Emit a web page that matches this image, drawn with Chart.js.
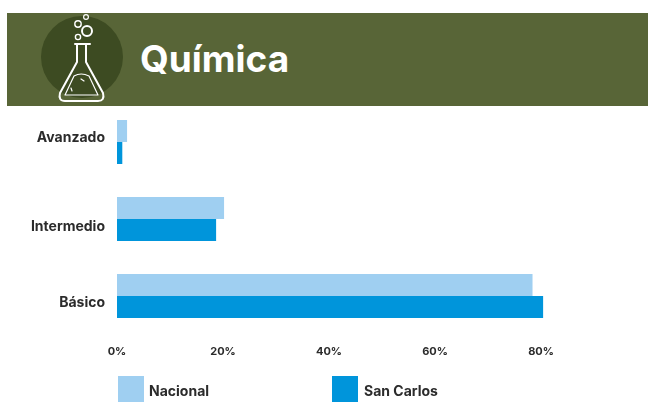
<!DOCTYPE html>
<html>
<head>
<meta charset="utf-8">
<title>Química</title>
<script src="https://cdn.jsdelivr.net/npm/chart.js@4"></script>
<style>
  html, body { margin: 0; padding: 0; background: #fff; overflow: hidden; }
  #page { position: relative; width: 649px; height: 413px; font-family: Inter, sans-serif; }
  #header { position: absolute; left: 7px; top: 13px; width: 641px; height: 93px; background: #586537; }
  #header svg { position: absolute; left: 0; top: -13px; }
  #header h1 { position: absolute; left: 133px; top: 23px; margin: 0; color: #fff; font-size: 37px; line-height: 46px; font-weight: 700; }
  #chart { position: absolute; left: 0; top: 0; }
  .legend-box { position: absolute; top: 376px; width: 26px; height: 26px; }
  .legend-text { position: absolute; top: 382px; font-size: 14px; line-height: 18px; font-weight: 700; color: #2b2b2b; }
</style>
</head>
<body>
<div id="page">
  <div id="header">
    <svg width="120" height="110" viewBox="7 0 120 110" fill="none" stroke="#fff" stroke-width="2" stroke-linecap="round" stroke-linejoin="round">
      <circle cx="82" cy="57" r="41" fill="#3d4b22" stroke="none"/>
      <path d="M75 44 H90 M77 45 V62 L60 93 Q58 101 65 101 H98 Q105 101 103 93 L86 62 V45"/>
      <path d="M74 76 Q81 72 89 76 L98 95 H65 Z" stroke-width="1.2"/>
      <circle cx="87" cy="31" r="5"/>
      <circle cx="78" cy="24" r="3.2" stroke-width="1.4"/>
      <circle cx="86" cy="17" r="2.4" stroke-width="1.2"/>
      <circle cx="78" cy="37" r="2.6" stroke-width="1.4"/>
      <path d="M81 79 L84 81 M71 88 L72 91" stroke-width="1.2"/>
    </svg>
    <h1>Química</h1>
  </div>
  <canvas id="chart" width="649" height="413"></canvas>
</div>
<script>
const categories = ['Avanzado', 'Intermedio', 'Básico'];
const nacional = [1.9, 20.2, 78.4];
const sanCarlos = [1.0, 18.7, 80.4];
const tickValues = [0, 20, 40, 60, 80];

const textColor = '#2b2b2b';

// the source picture has its category labels a bit off the bar centres
const moveCategoryLabels = {
    id: 'moveCategoryLabels',
    beforeDraw(chart) {
        const shift = [-4, 8, 7];
        chart.scales.y.getLabelItems().forEach((item, i) => {
            item.options.translation[1] += shift[i];
        });
    }
};

const chart = new Chart(document.getElementById('chart'), {
    type: 'bar',
    data: {
        labels: categories,
        datasets: [{
            label: 'Nacional',
            data: nacional,
            backgroundColor: '#9fcff1'
        }, {
            label: 'San Carlos',
            data: sanCarlos,
            backgroundColor: '#0095db'
        }]
    },
    options: {
        indexAxis: 'y',
        responsive: false,
        animation: false,
        layout: { padding: { top: 103.5, right: 2 } },
        datasets: { bar: { categoryPercentage: 0.572, barPercentage: 1 } },
        scales: {
            x: {
                min: 0,
                max: 100,
                grid: { display: false, drawTicks: false },
                border: { display: false },
                afterBuildTicks: axis => { axis.ticks = tickValues.map(v => ({ value: v })); },
                afterFit: axis => { axis.height = 78.5; },
                ticks: {
                    padding: 11,
                    maxRotation: 0,
                    color: textColor,
                    font: { family: 'Inter', size: 11, weight: '700' },
                    callback: v => v + '%'
                }
            },
            y: {
                grid: { display: false, drawTicks: false },
                border: { display: false },
                afterFit: axis => { axis.width = 117; },
                ticks: {
                    padding: 12,
                    color: textColor,
                    font: { family: 'Inter', size: 14, weight: '700' }
                }
            }
        },
        plugins: {
            tooltip: { enabled: false },
            legend: { display: false }
        }
    },
    plugins: [moveCategoryLabels]
});

// legend sits in the page because the items are spaced wider than the built-in one allows
const legendLeft = [118, 332];
const legendTextLeft = [149, 364];
const page = document.getElementById('page');
chart.data.datasets.forEach((ds, i) => {
    const box = document.createElement('div');
    box.className = 'legend-box';
    box.style.left = legendLeft[i] + 'px';
    box.style.background = ds.backgroundColor;
    page.appendChild(box);

    const text = document.createElement('div');
    text.className = 'legend-text';
    text.style.left = legendTextLeft[i] + 'px';
    text.textContent = ds.label;
    page.appendChild(text);
});
</script>
</body>
</html>
